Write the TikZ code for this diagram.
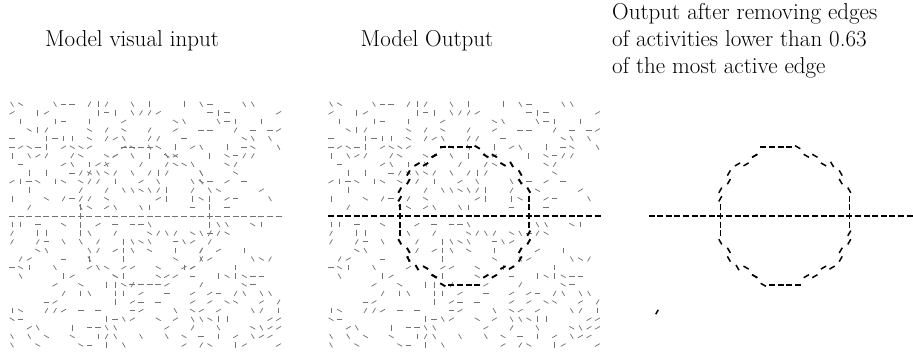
\documentclass[tikz,border=0pt]{standalone}
\usepackage{fontspec}
\newcommand\gridnoise[1]{%
  \pgfmathsetseed{4242}%
  \foreach \i in {0,...,31}{%
    \foreach \j in {-13,...,-1,1,2,...,15}{%
      \pgfmathsetmacro\r{rnd}%
      \pgfmathsetmacro\a{int(random(0,5))*30}%
      \ifdim\r pt<0.38pt
        \draw[noiseseg] ({#1+12+8.6*\i},{216+8.6*\j}) ++(\a:-2.8) -- ++(\a:5.6);
      \fi
    }%
  }%
}
\newcommand\ringline[2]{%
  \foreach \i in {0,...,31}{%
    \draw[#2] ({#1+12+8.6*\i},216) ++(-3,0) -- ++(6,0);
  }%
  \foreach \k in {0,...,47}{%
    \pgfmathsetmacro\th{\k*7.5}%
    \pgfmathsetmacro\px{#1+12+8.6*round((133+67.5*cos(\th))/8.6)}%
    \pgfmathsetmacro\py{216+8.6*round(67.5*sin(\th)/8.6)}%
    \pgfmathsetmacro\o{30*round((\th+90)/30)}%
    \draw[#2] (\px,\py) ++(\o:-3) -- ++(\o:6);
  }%
}
\begin{document}
\begin{tikzpicture}[x=1pt,y=-1pt,
  noiseseg/.style={draw=black!55,line width=0.75pt},
  thinseg/.style={draw=black!55,line width=0.75pt},
  boldseg/.style={draw=black,line width=1.9pt},
  cleanseg/.style={draw=black,line width=1.5pt},
  title/.style={inner sep=0pt,font=\fontsize{23}{27}\selectfont\addfontfeatures{LetterSpace=12}}]
\useasboundingbox (0,0) rectangle (913,354);
% titles
\node[title,anchor=base] (t1) at (132,46) {Model visual input};
\node[title,anchor=base] (t2) at (427,46) {Model Output};
\node[title,anchor=base west] (t3a) at (612,19) {Output after removing edges};
\node[title,anchor=base west] (t3b) at (612,46) {of activities lower than 0.63};
\node[title,anchor=base west] (t3c) at (612,73) {of the most active edge};
% left panel
\gridnoise{0}
\ringline{0}{thinseg}
% middle panel
\gridnoise{319}
\ringline{319}{boldseg}
% right panel
\ringline{639.5}{cleanseg}
\coordinate (stray) at (657,312);
\draw[cleanseg] (stray) ++(-60:-2.5) -- ++(-60:5);
\end{tikzpicture}
\end{document}
